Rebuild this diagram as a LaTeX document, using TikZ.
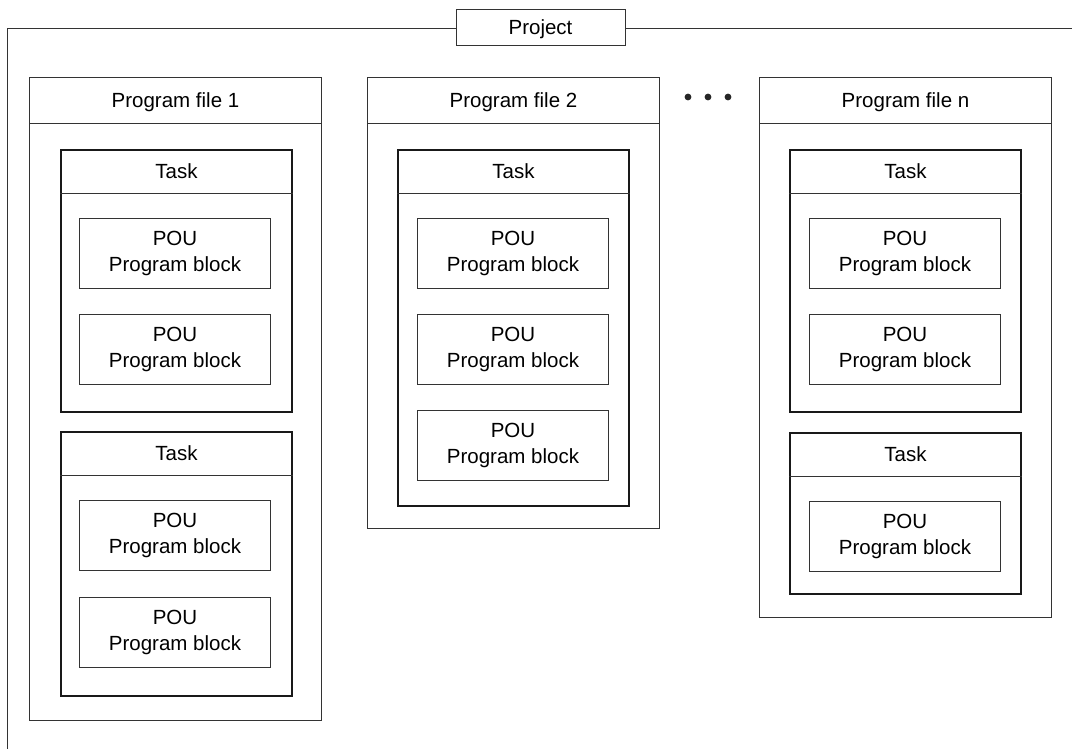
\documentclass[tikz,border=0pt]{standalone}
\usepackage{fontspec}
\setmainfont{Liberation Sans}
\usetikzlibrary{positioning, calc}

\newcommand{\figfont}{\fontsize{20.5}{26}\selectfont}

\begin{document}
\begin{tikzpicture}[
    x=1pt, y=-1pt,
    thinline/.style={draw=black!80, line width=1pt},
    frame/.style={thinline, anchor=north west, inner sep=0pt},
    filebox/.style={frame, minimum width=292pt},
    taskbox/.style={frame, draw=black!90, line width=2pt, minimum width=231pt},
    poubox/.style={frame, minimum width=191pt, minimum height=70pt,
                   align=center, font=\figfont},
    title/.style={anchor=north, inner sep=0pt, font=\figfont,
                  text height=14.7pt, text depth=0pt}
  ]
  \useasboundingbox (0,0) rectangle (1072,749);

  % project frame
  \node[thinline, inner sep=0pt, minimum width=169pt, minimum height=36pt,
        font=\figfont, text height=14.7pt, text depth=0pt] (project) at (540.5,27.5) {Project};
  \coordinate (corner) at (7.5,28.5);
  \coordinate (bottomend) at (7.5,749);
  \coordinate (rightend) at (1072,28.5);
  \draw[thinline] (project.west |- corner) -- (corner) -- (bottomend);
  \draw[thinline] (project.east |- corner) -- (rightend);

  % program files
  \node[filebox, minimum height=643pt] (pf1) at (29,77) {};
  \node[filebox, minimum height=451pt] (pf2) at (367,77) {};
  \node[filebox, minimum height=540pt] (pfn) at (759,77) {};
  \foreach \f/\t in {pf1/1, pf2/2, pfn/n} {
    \node[title, minimum height=46pt] (\f t) at (\f.north) {Program file \t};
    \draw[thinline] (\f t.south -| \f.west) -- (\f t.south -| \f.east);
  }

  % dots between file 2 and file n
  \foreach \x in {688,708,728}
    \fill[black!85] (\x,97) circle (3.4pt);

  % tasks
  \node[taskbox, minimum height=262pt] (task1a) at (60,149) {};
  \node[taskbox, minimum height=264pt] (task1b) at (60,431) {};
  \node[taskbox, minimum height=356pt] (task2a) at (397,149) {};
  \node[taskbox, minimum height=262pt] (taskna) at (789,149) {};
  \node[taskbox, minimum height=161pt] (tasknb) at (789,432) {};
  \foreach \k in {task1a, task1b, task2a, taskna, tasknb} {
    \node[title, minimum height=44pt] (\k t) at (\k.north) {Task};
    \draw[thinline] (\k t.south -| \k.west) -- (\k t.south -| \k.east);
  }

  % POUs
  \foreach \y [count=\i] in {218,314}
    \node[poubox] (pou1a\i) at (79,\y) {POU\\Program block};
  \foreach \y [count=\i] in {500,597}
    \node[poubox] (pou1b\i) at (79,\y) {POU\\Program block};
  \foreach \y [count=\i] in {218,314,410}
    \node[poubox] (pou2a\i) at (417,\y) {POU\\Program block};
  \foreach \y [count=\i] in {218,314}
    \node[poubox] (pouna\i) at (809,\y) {POU\\Program block};
  \node[poubox] (pounb1) at (809,501) {POU\\Program block};
\end{tikzpicture}
\end{document}
